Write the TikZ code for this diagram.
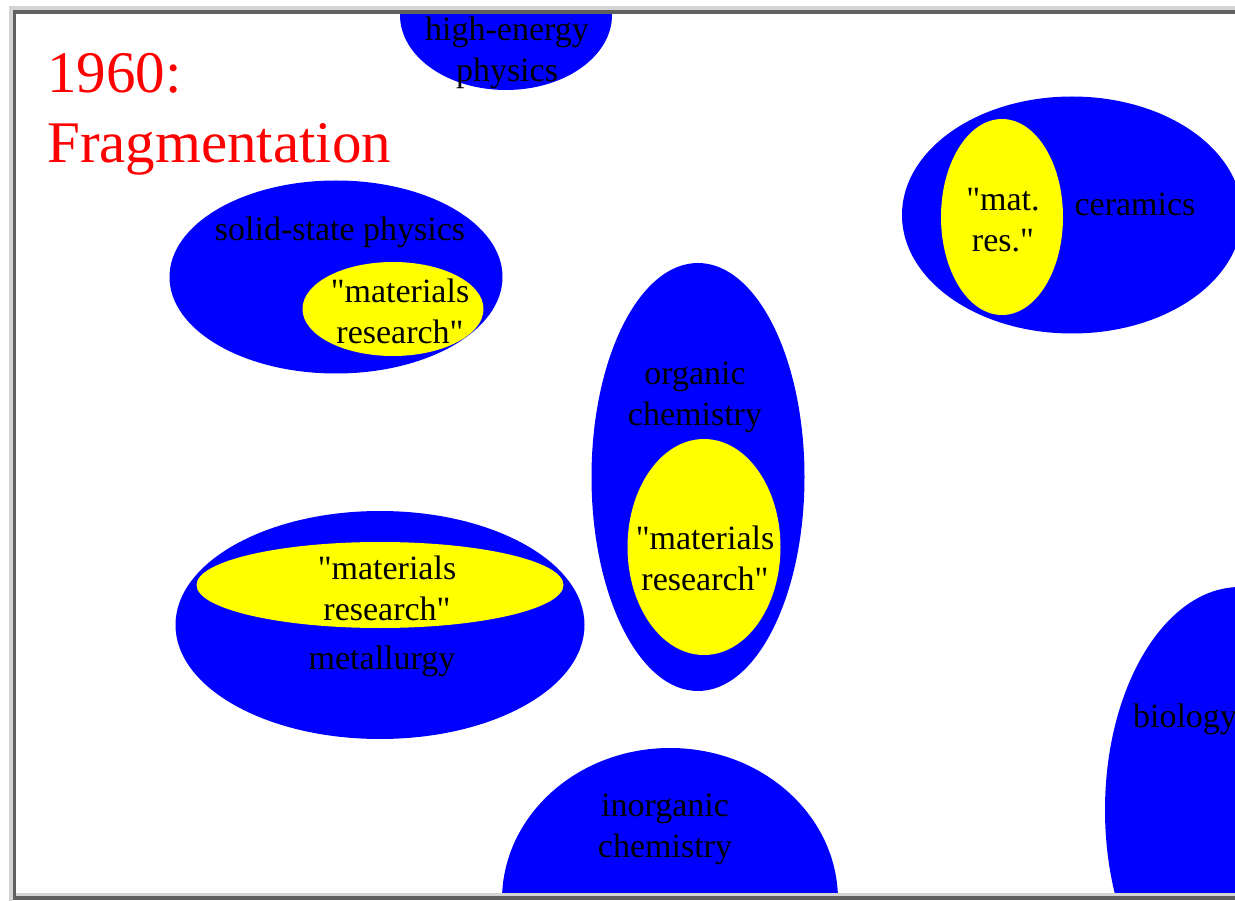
\documentclass[tikz,border=0pt]{standalone}
\usepackage{fontspec}
\setmainfont{Liberation Serif}
\usetikzlibrary{shapes.geometric}
\definecolor{fblue}{RGB}{0,0,255}
\definecolor{fyellow}{RGB}{255,255,0}
\definecolor{fred}{RGB}{255,0,0}
\definecolor{framedark}{RGB}{96,96,96}
\definecolor{framelight}{RGB}{212,212,212}
\newcommand{\qq}{\textquotedbl}
\tikzset{
  field/.style={ellipse, fill=fblue, draw=none, inner sep=0pt},
  sub/.style={ellipse, fill=fyellow, draw=none, inner sep=0pt},
  lbl/.style={font=\fontsize{34}{41}\selectfont, align=center, inner sep=0pt, text=black},
  ttl/.style={font=\fontsize{59}{70}\selectfont, align=left, inner sep=0pt, text=fred, anchor=north west}
}
\begin{document}
\begin{tikzpicture}[x=1pt,y=-1pt]
\useasboundingbox (0,0) rectangle (1235,901);
\fill[white] (0,0) rectangle (1235,901);
\begin{scope}
\clip (16,14) rectangle (1235,896);
% high-energy physics
\node[field, minimum width=212pt, minimum height=150pt] (hep) at (506,15) {};
% solid-state physics
\node[field, minimum width=333pt, minimum height=193pt] (ssp) at (336,277) {};
\node[sub, minimum width=181pt, minimum height=94pt] (sspm) at (393,309) {};
% ceramics
\node[field, minimum width=340pt, minimum height=237pt] (cer) at (1072,215) {};
\node[sub, minimum width=122pt, minimum height=196pt] (cerm) at (1002,217) {};
% organic chemistry
\node[field, minimum width=213pt, minimum height=428pt] (org) at (698,477) {};
\node[sub, minimum width=153pt, minimum height=216pt] (orgm) at (704,547) {};
% metallurgy
\node[field, minimum width=409pt, minimum height=228pt] (met) at (380,625) {};
\node[sub, minimum width=367pt, minimum height=86pt] (metm) at (380,585) {};
% inorganic chemistry
\node[field, minimum width=336pt, minimum height=304pt] (inorg) at (670,900) {};
% biology
\node[field, minimum width=270pt, minimum height=446pt] (bio) at (1240,810) {};
\end{scope}
% labels
\node[lbl] (hept) at (507,53) {high-energy\\physics};
\node[lbl] (sspt) at (340,232) {solid-state physics};
\node[lbl] (sspmt) at (400,311) {\qq materials\\research\qq};
\node[lbl] (cert) at (1135,204) {ceramics};
\node[lbl] (cermt) at (1003,220) {\qq mat.\\res.\qq};
\node[lbl] (orgt) at (695,397) {organic\\chemistry};
\node[lbl] (orgmt) at (705,558) {\qq materials\\research\qq};
\node[lbl] (mett) at (382,661) {metallurgy};
\node[lbl] (metmt) at (387,588) {\qq materials\\research\qq};
\node[lbl] (inorgt) at (665,829) {inorganic\\chemistry};
\node[lbl] (biot) at (1185,719) {biology};
% title
\node[ttl] (title) at (47,53) {1960:\\Fragmentation};
% frame
\fill[framelight] (9,6) rectangle (1235,10);
\fill[framelight] (9,6) rectangle (13,901);
\fill[framelight] (13,893) rectangle (1235,896);
\fill[framedark] (13,10) rectangle (1235,14);
\fill[framedark] (13,10) rectangle (16,896);
\fill[framedark] (13,896) rectangle (1235,900);
\end{tikzpicture}
\end{document}
